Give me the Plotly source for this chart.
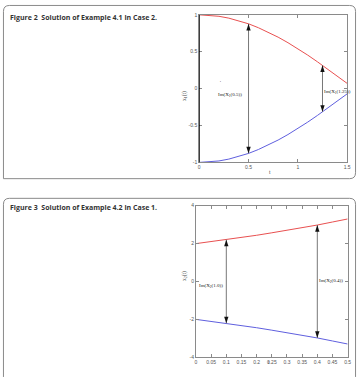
import plotly.graph_objects as go

# ---------------- data ----------------
t1 = [0.0, 0.1, 0.2, 0.3, 0.4, 0.5, 0.6, 0.7, 0.8, 0.9, 1.0, 1.1, 1.2, 1.3, 1.4, 1.5]
x1_upper = [1.0, 0.995, 0.98, 0.955, 0.921, 0.878, 0.825, 0.765, 0.697, 0.622, 0.540, 0.454, 0.362, 0.267, 0.170, 0.071]
x1_lower = [-1.0, -0.995, -0.98, -0.955, -0.921, -0.878, -0.825, -0.765, -0.697, -0.622, -0.540, -0.454, -0.362, -0.267, -0.170, -0.071]
arrow1_t = [0.5, 1.25]
arrow1_hi = [0.878, 0.315]
arrow1_lo = [-0.878, -0.315]
label1_text = ["Im(X<sub>1</sub>(0.5))", "Im(X<sub>1</sub>(1.25))"]

t2 = [0.0, 0.05, 0.1, 0.15, 0.2, 0.25, 0.3, 0.35, 0.4, 0.45, 0.5]
x2_upper = [2.0, 2.10, 2.21, 2.32, 2.44, 2.57, 2.70, 2.84, 2.98, 3.14, 3.30]
x2_lower = [-2.0, -2.10, -2.21, -2.32, -2.44, -2.57, -2.70, -2.84, -2.98, -3.14, -3.30]
arrow2_t = [0.1, 0.4]
arrow2_hi = [2.21, 2.98]
arrow2_lo = [-2.21, -2.98]
label2_text = ["Im(X<sub>2</sub>(1.0))", "Im(X<sub>2</sub>(0.4))"]

xt1 = [0, 0.5, 1, 1.5]
xt1_text = ["0", "0.5", "1", "1.5"]
yt1 = [-1, -0.5, 0, 0.5, 1]
yt1_text = ["-1", "-0.5", "0", "0.5", "1"]
xt2 = [0, 0.05, 0.1, 0.15, 0.2, 0.25, 0.3, 0.35, 0.4, 0.45, 0.5]
xt2_text = ["0", "0.05", "0.1", "0.15", "0.2", "0.25", "0.3", "0.35", "0.4", "0.45", "0.5"]
yt2 = [-4, -2, 0, 2, 4]
yt2_text = ["-4", "-2", "0", "2", "4"]

caption1 = "Figure 2  Solution of Example 4.1 in Case 2."
caption2 = "Figure 3  Solution of Example 4.2 in Case 1."

# ---------------- figure ----------------
W, H = 362, 377
RED = "rgb(232,80,80)"
BLUE = "rgb(95,95,222)"
GRAY = "#8a8a8a"

def px(x):
    return x / W

def py(y):
    return 1 - y / H

fig = go.Figure()
fig.add_trace(go.Scatter(x=t1, y=x1_upper, mode="lines", line=dict(color=RED, width=1), xaxis="x", yaxis="y", showlegend=False))
fig.add_trace(go.Scatter(x=t1, y=x1_lower, mode="lines", line=dict(color=BLUE, width=1), xaxis="x", yaxis="y", showlegend=False))
fig.add_trace(go.Scatter(x=t2, y=x2_upper, mode="lines", line=dict(color=RED, width=1), xaxis="x2", yaxis="y2", showlegend=False))
fig.add_trace(go.Scatter(x=t2, y=x2_lower, mode="lines", line=dict(color=BLUE, width=1), xaxis="x2", yaxis="y2", showlegend=False))

# arrows: gray shafts (lines) + black heads (arrow markers, tip at the data point)
def add_arrows(ts, hi, lo, xa, ya):
    for t, h, l in zip(ts, hi, lo):
        fig.add_trace(go.Scatter(x=[t, t], y=[l, h], mode="lines", line=dict(color="#777", width=1),
                                 xaxis=xa, yaxis=ya, showlegend=False, hoverinfo="skip"))
    fig.add_trace(go.Scatter(x=list(ts), y=list(hi), mode="markers", xaxis=xa, yaxis=ya, showlegend=False,
                             marker=dict(symbol="arrow", size=7, angle=0, color="#111", line=dict(width=0)),
                             hoverinfo="skip"))
    fig.add_trace(go.Scatter(x=list(ts), y=list(lo), mode="markers", xaxis=xa, yaxis=ya, showlegend=False,
                             marker=dict(symbol="arrow", size=7, angle=180, color="#111", line=dict(width=0)),
                             hoverinfo="skip"))

add_arrows(arrow1_t, arrow1_hi, arrow1_lo, "x", "y")
add_arrows(arrow2_t, arrow2_hi, arrow2_lo, "x2", "y2")

tickfont = dict(family="Liberation Sans, Arial", size=5, color="#555")
axcommon = dict(showgrid=False, zeroline=False, ticks="inside", ticklen=3, tickcolor=GRAY,
                mirror="allticks", showline=True, linecolor=GRAY, linewidth=1, tickfont=tickfont,
                fixedrange=True)

fig.update_layout(
    width=W, height=H, margin=dict(l=0, r=0, t=0, b=0),
    paper_bgcolor="white", plot_bgcolor="white",
    xaxis=dict(domain=[px(201), px(351)], range=[0, 1.5], tickvals=xt1, ticktext=xt1_text, anchor="y", **axcommon),
    yaxis=dict(domain=[py(162), py(12)], range=[-1, 1], tickvals=yt1, ticktext=yt1_text, anchor="x", **axcommon),
    xaxis2=dict(domain=[px(197.7), px(351.5)], range=[0, 0.5], tickvals=xt2, ticktext=xt2_text, anchor="y2", **axcommon),
    yaxis2=dict(domain=[py(360), py(206)], range=[-4, 4], tickvals=yt2, ticktext=yt2_text, anchor="x2", **axcommon),
)

# panel frames (rounded boxes)
r = 6
def box_path(x0, y0, x1, y1, r, open_bottom=False):
    X0, Y0, X1, Y1 = px(x0), py(y0), px(x1), py(y1)
    rx, ry = r / W, r / H
    if open_bottom:
        return (f"M {X0} {Y1} L {X0} {Y0 - ry} Q {X0} {Y0} {X0 + rx} {Y0} "
                f"L {X1 - rx} {Y0} Q {X1} {Y0} {X1} {Y0 - ry} L {X1} {Y1}")
    return (f"M {X0} {Y1} L {X0} {Y0 - ry} Q {X0} {Y0} {X0 + rx} {Y0} "
            f"L {X1 - rx} {Y0} Q {X1} {Y0} {X1} {Y0 - ry} L {X1} {Y1 + ry} "
            f"Q {X1} {Y1} {X1 - rx} {Y1} Z")

fig.add_shape(type="path", xref="paper", yref="paper", path=box_path(2.5, 2.5, 359.5, 178.5, r),
              line=dict(color=GRAY, width=1))
fig.add_shape(type="path", xref="paper", yref="paper", path=box_path(2.5, 198.5, 359.5, 380, r, open_bottom=True),
              line=dict(color=GRAY, width=1))

# darker left axis on panel 1
fig.add_shape(type="line", xref="x", yref="y", x0=0, x1=0, y0=-1, y1=1, line=dict(color="black", width=1.5))

capfont = dict(family="Open Sans, Arial", size=7, color="#333")
fig.add_annotation(x=px(7), y=py(15), xref="paper", yref="paper", text="<b>" + caption1 + "</b>",
                   showarrow=False, xanchor="left", yanchor="middle", font=capfont)
fig.add_annotation(x=px(7), y=py(208), xref="paper", yref="paper", text="<b>" + caption2 + "</b>",
                   showarrow=False, xanchor="left", yanchor="middle", font=capfont)

titlefont = dict(family="Liberation Serif, serif", size=5.5, color="#444")
fig.add_annotation(x=px(186), y=py(87), xref="paper", yref="paper", text="x<sub>1</sub>(t)", textangle=-90,
                   showarrow=False, font=titlefont)
fig.add_annotation(x=px(186), y=py(284), xref="paper", yref="paper", text="x<sub>2</sub>(t)", textangle=-90,
                   showarrow=False, font=titlefont)
fig.add_annotation(x=px(276), y=py(172), xref="paper", yref="paper", text="t", showarrow=False, font=titlefont)
fig.add_annotation(x=px(274.5), y=py(370), xref="paper", yref="paper", text="t", showarrow=False, font=titlefont)

labfont = dict(family="Liberation Serif, serif", size=5, color="#222")
fig.add_annotation(x=0.455, y=-0.08, xref="x", yref="y", text=label1_text[0], showarrow=False,
                   xanchor="right", font=labfont)
fig.add_annotation(x=1.24, y=-0.05, xref="x", yref="y", text=label1_text[1], showarrow=False,
                   xanchor="left", font=labfont)
fig.add_annotation(x=0.003, y=-0.25, xref="x2", yref="y2", text=label2_text[0], showarrow=False,
                   xanchor="left", font=labfont)
fig.add_annotation(x=0.40, y=0.0, xref="x2", yref="y2", text=label2_text[1], showarrow=False,
                   xanchor="left", font=labfont)
fig.add_annotation(x=0.22, y=0.08, xref="x", yref="y", text="'", showarrow=False, font=labfont)

fig.write_html("out.html")
